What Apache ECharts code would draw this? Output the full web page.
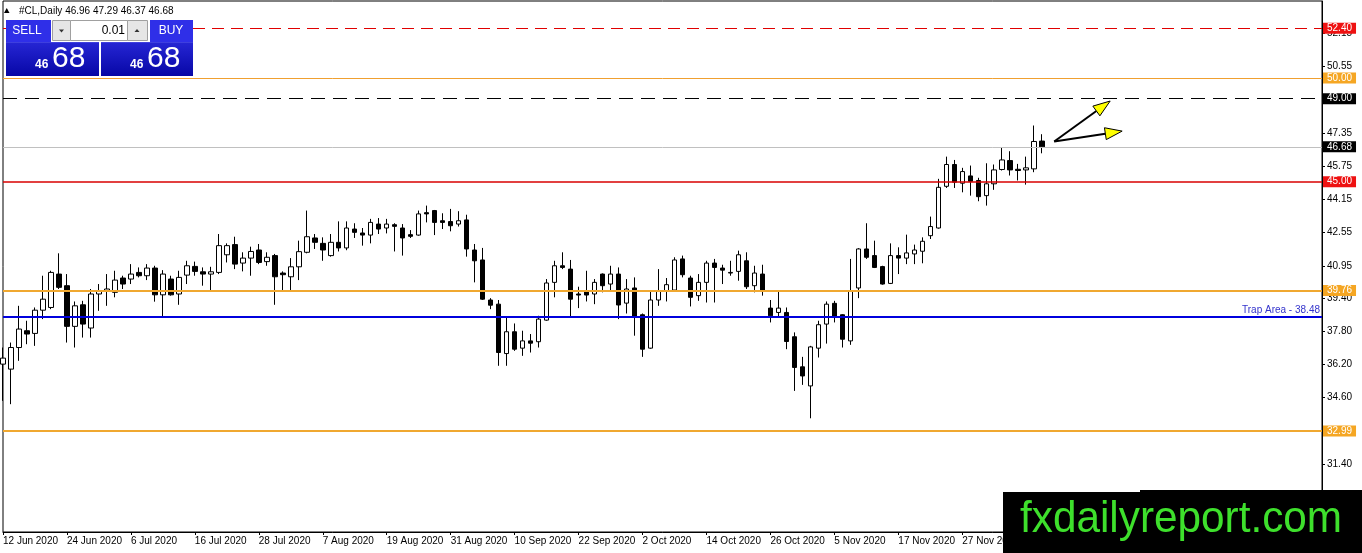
<!doctype html>
<html lang="en">
<head>
<meta charset="utf-8" />
<title>#CL,Daily</title>
<script src="https://cdn.jsdelivr.net/npm/echarts@6/dist/echarts.min.js"></script>
<style>
	html, body { margin: 0; padding: 0; background: #fff; }
	#main { width: 1362px; height: 553px; }
</style>
</head>
<body>
<div id="main"></div>
<script>
// daily bars, first one is 12 Jun 2020
var openPrices = [
	36.21, 35.97, 37.01, 37.82, 37.69, 38.81, 38.94, 40.55, 39.99, 38.03,
	39.07, 37.95, 39.59, 39.72, 39.67, 40.36, 40.31, 40.63, 40.47, 40.84,
	39.55, 40.31, 39.59, 40.50, 40.92, 40.66, 40.55, 40.63, 41.48, 41.97,
	41.08, 41.32, 41.71, 41.15, 41.44, 40.60, 40.42, 40.90, 41.60, 42.29,
	42.03, 41.44, 42.08, 41.81, 42.72, 42.53, 42.43, 42.96, 42.77, 42.93,
	42.77, 42.45, 42.43, 43.51, 43.61, 43.12, 43.08, 42.96, 43.16, 41.71,
	41.23, 39.30, 39.10, 36.72, 37.77, 36.98, 37.33, 37.29, 38.33, 40.15,
	40.95, 40.79, 39.59, 39.71, 39.59, 40.55, 40.07, 40.55, 39.15, 39.88,
	38.59, 36.98, 39.30, 39.75, 39.78, 41.28, 40.36, 39.51, 40.15, 41.08,
	40.84, 40.60, 40.68, 41.19, 39.99, 40.55, 38.91, 38.70, 38.70, 37.53,
	36.08, 35.16, 36.98, 38.14, 39.14, 38.59, 37.33, 39.88, 41.76, 41.44,
	40.91, 40.10, 41.44, 41.32, 41.52, 41.65, 42.40, 42.77, 44.78, 45.83,
	44.93, 45.28, 45.06, 44.33, 44.90, 45.59, 46.02, 45.60, 45.57, 45.62,
	46.96
];
var closePrices = [
	36.50, 37.01, 37.90, 37.66, 38.81, 39.34, 40.63, 39.91, 38.03, 39.02,
	38.14, 39.59, 39.75, 39.83, 40.26, 40.07, 40.55, 40.47, 40.84, 39.55,
	40.55, 39.55, 40.39, 40.95, 40.68, 40.55, 40.66, 41.92, 41.92, 41.03,
	41.32, 41.64, 41.11, 41.36, 40.42, 40.52, 40.90, 41.63, 42.35, 42.08,
	41.71, 42.08, 41.81, 42.77, 42.56, 42.43, 43.04, 42.72, 42.96, 42.85,
	42.29, 42.37, 43.45, 43.45, 43.04, 43.04, 42.88, 43.12, 41.76, 41.19,
	39.34, 39.05, 36.77, 37.77, 36.93, 37.33, 37.22, 38.38, 40.12, 40.95,
	40.87, 39.34, 39.54, 39.54, 40.15, 39.99, 40.55, 39.06, 39.83, 38.49,
	36.93, 39.30, 39.75, 40.04, 41.23, 40.52, 39.43, 40.15, 41.08, 40.87,
	40.74, 40.63, 41.48, 39.94, 40.60, 39.78, 38.54, 38.91, 37.30, 36.05,
	35.64, 37.04, 38.11, 39.10, 38.49, 37.41, 39.75, 41.76, 41.36, 40.87,
	40.07, 41.44, 41.32, 41.57, 41.71, 42.13, 42.84, 44.73, 45.83, 44.98,
	45.49, 45.02, 44.28, 44.90, 45.57, 46.05, 45.57, 45.54, 45.67, 46.94,
	46.68
];
var lowPrices = [
	34.44, 34.28, 36.37, 37.17, 37.09, 38.38, 38.86, 39.83, 37.25, 37.01,
	37.49, 37.49, 38.78, 39.02, 39.43, 39.83, 40.07, 40.39, 40.26, 39.22,
	38.46, 39.51, 39.07, 40.07, 40.47, 39.99, 39.78, 40.55, 41.11, 40.79,
	40.68, 40.47, 41.03, 40.95, 39.07, 39.78, 39.78, 40.26, 41.55, 41.76,
	41.19, 41.39, 41.64, 41.70, 42.29, 41.92, 42.03, 42.48, 42.51, 41.64,
	41.44, 42.29, 42.40, 43.04, 42.43, 42.72, 42.61, 42.84, 41.39, 40.15,
	39.30, 38.86, 36.13, 36.13, 36.85, 36.61, 36.77, 37.01, 38.30, 39.43,
	40.79, 38.49, 38.91, 39.23, 39.10, 39.67, 39.75, 38.38, 38.65, 37.58,
	36.56, 36.95, 39.02, 39.23, 39.75, 40.39, 38.99, 39.26, 39.18, 39.18,
	40.07, 40.47, 40.23, 39.83, 39.67, 39.51, 38.22, 38.49, 36.93, 34.92,
	35.21, 33.60, 36.53, 37.20, 38.22, 37.01, 37.14, 39.39, 41.28, 40.84,
	40.04, 40.07, 40.55, 41.03, 41.03, 41.07, 42.24, 42.74, 44.70, 44.70,
	44.49, 44.33, 44.06, 43.85, 44.61, 45.54, 45.30, 45.06, 44.86, 45.46,
	46.37
];
var highPrices = [
	37.01, 37.25, 39.02, 38.30, 38.94, 40.47, 40.71, 41.55, 40.55, 39.23,
	39.26, 39.83, 40.07, 40.55, 40.71, 40.47, 41.03, 40.87, 41.03, 40.95,
	40.74, 40.47, 40.71, 41.19, 41.15, 40.87, 40.90, 42.48, 42.03, 42.35,
	41.60, 41.87, 42.00, 41.60, 41.52, 40.68, 41.32, 42.16, 43.61, 42.48,
	42.32, 42.48, 43.09, 43.09, 43.00, 42.77, 43.21, 43.25, 43.21, 43.00,
	42.96, 42.67, 43.61, 43.85, 43.64, 43.48, 43.69, 43.58, 43.41, 42.00,
	41.81, 39.39, 39.30, 38.46, 38.17, 37.82, 37.66, 38.54, 40.31, 41.19,
	41.60, 41.23, 39.94, 40.71, 40.31, 40.58, 40.95, 40.87, 40.31, 40.39,
	38.65, 39.75, 40.79, 40.36, 41.36, 41.44, 40.47, 40.55, 41.19, 41.28,
	41.00, 41.19, 41.68, 41.60, 40.95, 41.00, 39.30, 39.75, 38.94, 37.74,
	36.56, 37.09, 38.30, 39.23, 39.26, 38.62, 41.28, 41.80, 43.00, 42.16,
	40.95, 42.03, 41.84, 42.45, 41.97, 42.32, 43.32, 45.14, 46.21, 46.05,
	45.67, 45.78, 45.19, 45.89, 45.83, 46.63, 46.47, 45.86, 46.21, 47.71,
	47.29
];
var firstDay = '2020-06-12';
var slotCount = 166;   // bars that fit across the window, empty space on the right included
var priceTicks = [52.15, 50.55, 47.35, 45.75, 44.15, 42.55, 40.95, 39.40, 37.80, 36.20, 34.60, 31.40];
var levelPrices = [52.40, 50.00, 49.00, 46.68, 45.00, 39.76, 38.48, 32.99];
var levelNames = ['', '', '', '', '', '', 'Trap Area', ''];
var headerText = '#CL,Daily 46.96 47.29 46.37 46.68';
var lotSize = '0.01';
var sellQuote = ['46', '68'];
var buyQuote = ['46', '68'];
// arrows drawn in the chart: [bar index, price]
var arrowFrom = [131.5, 46.94];
var arrowTips = [[138.5, 48.89], [140.0, 47.44]];

var FONT = 'Tahoma, "Liberation Sans", Arial, sans-serif';
var months = ['Jan','Feb','Mar','Apr','May','Jun','Jul','Aug','Sep','Oct','Nov','Dec'];

function weekdays(start, n) {
	var d = new Date(start + 'T00:00:00Z'), out = [];
	while (out.length < n) {
		var wd = d.getUTCDay();
		if (wd !== 0 && wd !== 6) {
			out.push(d.getUTCDate() + ' ' + months[d.getUTCMonth()] + ' ' + d.getUTCFullYear());
		}
		d.setUTCDate(d.getUTCDate() + 1);
	}
	return out;
}

var categories = weekdays(firstDay, slotCount);
var candles = openPrices.map(function (o, i) {
	return [o, closePrices[i], lowPrices[i], highPrices[i]];
});

function boxLabel(bg) {
	return {
		show: true, position: 'end', distance: 1,
		formatter: function (p) { return p.value.toFixed(2); },
		backgroundColor: bg, color: '#fff',
		fontFamily: FONT, fontSize: 10, padding: [1, 4, 0, 4]
	};
}

var levelStyles = [
	{ line: { color: '#e00000', width: 1, type: [12, 7] }, label: boxLabel('#ee1111') },
	{ line: { color: '#f0a030', width: 1, type: 'solid' }, label: boxLabel('#f5a623') },
	{ line: { color: '#000', width: 1, type: [14, 8] }, label: boxLabel('#000') },
	{ line: { color: '#c0c0c0', width: 1, type: 'solid' }, label: boxLabel('#000') },
	{ line: { color: '#d80000', width: 1.5, type: 'solid' }, label: boxLabel('#ee1111') },
	{ line: { color: '#f0a830', width: 2, type: 'solid' }, label: boxLabel('#f5a623') },
	{ line: { color: '#0000dd', width: 2, type: 'solid' }, label: {
		show: true, position: 'insideEndTop', distance: 2,
		formatter: function (p) { return p.name + ' - ' + p.value.toFixed(2); },
		color: '#3333cc', fontFamily: FONT, fontSize: 10
	} },
	{ line: { color: '#f0a830', width: 2, type: 'solid' }, label: boxLabel('#f5a623') }
];

var chart = echarts.init(document.getElementById('main'));

var option = {
	animation: false,
	backgroundColor: '#fff',
	grid: {
		left: 3, right: 40, top: 1, bottom: 21,
		show: true, borderColor: '#000', borderWidth: 1, backgroundColor: '#fff'
	},
	xAxis: {
		type: 'category',
		data: categories,
		boundaryGap: false,
		axisLine: { onZero: false, lineStyle: { color: '#000' } },
		axisTick: { interval: 7, length: 3, lineStyle: { color: '#000' } },
		axisLabel: {
			interval: 7, align: 'left', margin: 4,
			color: '#000', fontFamily: FONT, fontSize: 10,
			formatter: function (v, i) { return i < openPrices.length ? v : ''; }
		},
		splitLine: { show: false }
	},
	yAxis: {
		type: 'value',
		position: 'right',
		min: 28.12, max: 53.71,
		scale: true,
		axisLine: { show: true, lineStyle: { color: '#000' } },
		axisTick: { show: true, customValues: priceTicks, length: 3, lineStyle: { color: '#000' } },
		axisLabel: {
			customValues: priceTicks, margin: 5,
			color: '#000', fontFamily: FONT, fontSize: 10,
			formatter: function (v) { return v.toFixed(2); }
		},
		splitLine: { show: false }
	},
	series: [{
		type: 'candlestick',
		data: candles,
		barWidth: 5,
		itemStyle: {
			color: '#fff', color0: '#000',
			borderColor: '#000', borderColor0: '#000', borderWidth: 1
		},
		markLine: {
			silent: true,
			symbol: ['none', 'none'],
			animation: false,
			data: levelPrices.map(function (p, i) {
				return { name: levelNames[i], yAxis: p, lineStyle: levelStyles[i].line, label: levelStyles[i].label };
			})
		}
	}]
};
chart.setOption(option);

// pixel position of a (fractional) bar index and price
function toPixel(pt) {
	var i0 = Math.floor(pt[0]), f = pt[0] - i0;
	var a = chart.convertToPixel({ gridIndex: 0 }, [i0, pt[1]]);
	var b = chart.convertToPixel({ gridIndex: 0 }, [i0 + 1, pt[1]]);
	return [a[0] + (b[0] - a[0]) * f, a[1]];
}

var graphics = [];

// arrows
var o = toPixel(arrowFrom);
arrowTips.forEach(function (tip) {
	var t = toPixel(tip);
	var dx = t[0] - o[0], dy = t[1] - o[1], len = Math.sqrt(dx * dx + dy * dy);
	var ux = dx / len, uy = dy / len, nx = -uy, ny = ux;
	var bx = t[0] - ux * 17, by = t[1] - uy * 17;
	graphics.push({
		type: 'line', z: 50,
		shape: { x1: o[0], y1: o[1], x2: bx, y2: by },
		style: { stroke: '#000', lineWidth: 2 }
	});
	graphics.push({
		type: 'polygon', z: 51,
		shape: { points: [t, [bx + nx * 6, by + ny * 6], [bx - nx * 6, by - ny * 6]] },
		style: { fill: '#ffff00', stroke: '#000', lineWidth: 1 }
	});
});

// symbol caption at top left
graphics.push({
	type: 'polygon', z: 60,
	shape: { points: [[4, 13], [9.5, 13], [6.75, 8]] },
	style: { fill: '#000' }
});
graphics.push({
	type: 'text', z: 60, x: 19, y: 11,
	style: { text: headerText, fill: '#000', font: '10px ' + FONT, verticalAlign: 'middle' }
});

// one click trading panel
var blue = new echarts.graphic.LinearGradient(0, 0, 0, 1, [
	{ offset: 0, color: '#3a3af2' }, { offset: 1, color: '#0707a6' }
]);
graphics.push({ type: 'rect', z: 60, shape: { x: 6, y: 20, width: 93, height: 56 }, style: { fill: blue } });
graphics.push({ type: 'rect', z: 60, shape: { x: 101, y: 20, width: 92, height: 56 }, style: { fill: blue } });
graphics.push({ type: 'rect', z: 61, shape: { x: 6, y: 41.5, width: 187, height: 0.8 }, style: { fill: '#8a90ff' } });
graphics.push({ type: 'rect', z: 61, shape: { x: 99, y: 41, width: 2, height: 35 }, style: { fill: '#fff' } });
graphics.push({ type: 'rect', z: 62, shape: { x: 51, y: 20, width: 99, height: 22 }, style: { fill: '#fff' } });
graphics.push({ type: 'rect', z: 63, shape: { x: 52.5, y: 20.5, width: 18, height: 20 }, style: { fill: '#e6e6e6', stroke: '#a0a0a0', lineWidth: 1 } });
graphics.push({ type: 'polygon', z: 64, shape: { points: [[59, 29.5], [64, 29.5], [61.5, 32.5]] }, style: { fill: '#333' } });
graphics.push({ type: 'rect', z: 63, shape: { x: 70.5, y: 20.5, width: 57, height: 20 }, style: { fill: '#fff', stroke: '#a0a0a0', lineWidth: 1 } });
graphics.push({ type: 'text', z: 64, x: 125, y: 30.5, style: { text: lotSize, fill: '#000', font: '12px ' + FONT, align: 'right', verticalAlign: 'middle' } });
graphics.push({ type: 'rect', z: 63, shape: { x: 127.5, y: 20.5, width: 20, height: 20 }, style: { fill: '#e6e6e6', stroke: '#a0a0a0', lineWidth: 1 } });
graphics.push({ type: 'polygon', z: 64, shape: { points: [[134.5, 32], [139.5, 32], [137, 29]] }, style: { fill: '#333' } });
graphics.push({ type: 'rect', z: 62, shape: { x: 150, y: 20, width: 43, height: 22 }, style: { fill: '#2f2fe8' } });
graphics.push({ type: 'rect', z: 62, shape: { x: 6, y: 20, width: 45, height: 22 }, style: { fill: '#2f2fe8' } });
graphics.push({ type: 'text', z: 64, x: 27, y: 31, style: { text: 'SELL', fill: '#fff', font: '12px ' + FONT, align: 'center', verticalAlign: 'middle' } });
graphics.push({ type: 'text', z: 64, x: 171, y: 31, style: { text: 'BUY', fill: '#fff', font: '12px ' + FONT, align: 'center', verticalAlign: 'middle' } });
[[sellQuote, 35, 52], [buyQuote, 130, 147]].forEach(function (q) {
	graphics.push({ type: 'text', z: 64, x: q[1], y: 71, style: { text: q[0][0], fill: '#fff', font: 'bold 12px ' + FONT, verticalAlign: 'bottom' } });
	graphics.push({ type: 'text', z: 64, x: q[2], y: 74, style: { text: q[0][1], fill: '#fff', font: '30px ' + FONT, verticalAlign: 'bottom' } });
});

// watermark
graphics.push({ type: 'rect', z: 90, shape: { x: 1003, y: 492, width: 359, height: 61 }, style: { fill: '#000' } });
graphics.push({ type: 'rect', z: 90, shape: { x: 1140, y: 490, width: 222, height: 4 }, style: { fill: '#000' } });
graphics.push({
	type: 'text', z: 91, x: 1020, y: 520, scaleX: 0.94,
	style: { text: 'fxdailyreport.com', fill: '#3ee02c', font: '45px "Liberation Sans", Arial, sans-serif', verticalAlign: 'middle' }
});

chart.setOption({ graphic: { elements: graphics } });
</script>
</body>
</html>
